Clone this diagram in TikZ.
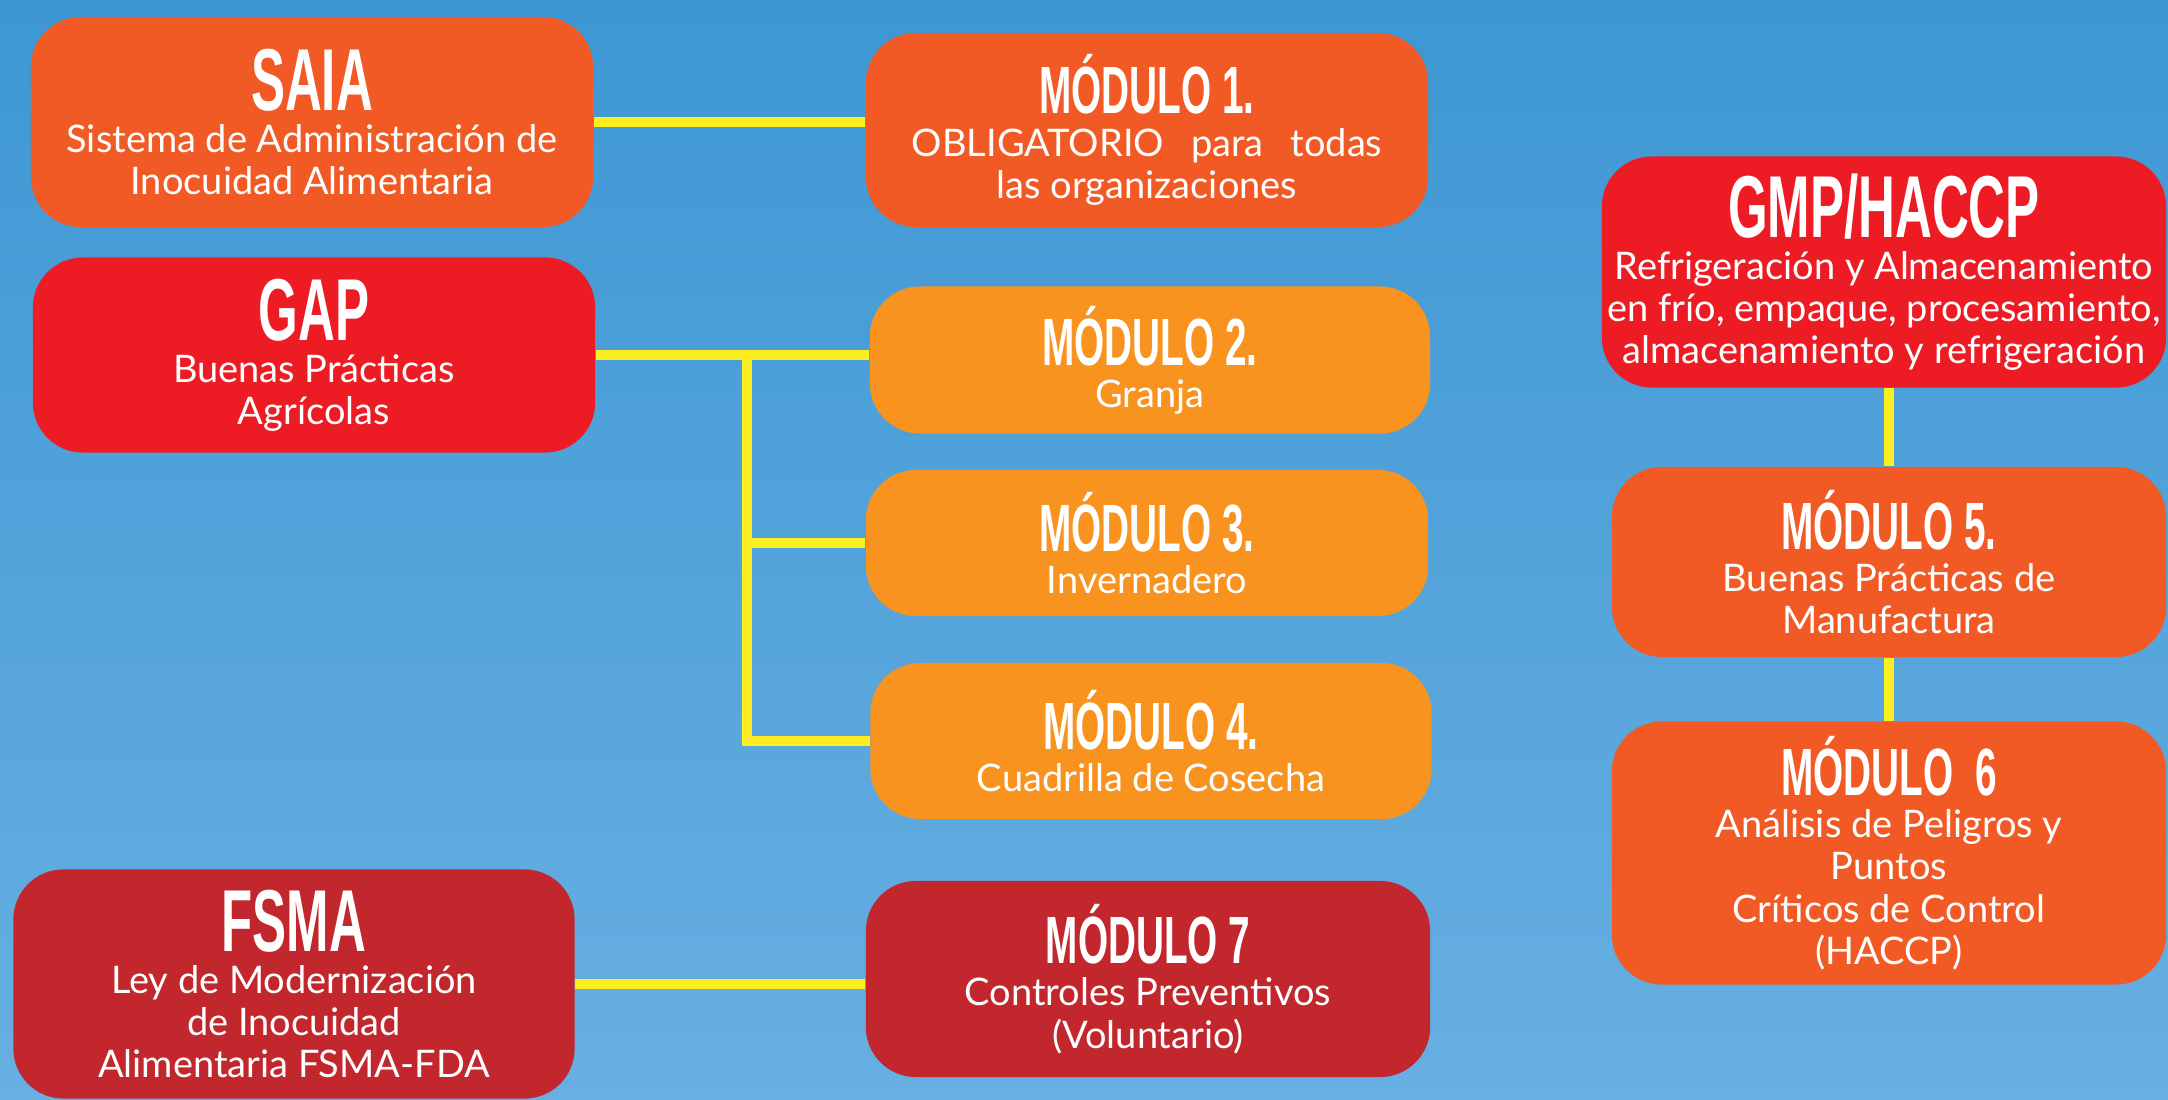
\documentclass[tikz,border=0pt]{standalone}
\usepackage{fontspec}
\setmainfont{Lato}
\newfontfamily\titlefont[FakeStretch=0.58]{Liberation Sans}
\usetikzlibrary{positioning}

\definecolor{bgtop}{RGB}{61,151,211}
\definecolor{bgbot}{RGB}{104,175,226}
\definecolor{saiaorange}{RGB}{241,90,36}
\definecolor{gapred}{RGB}{237,28,36}
\definecolor{modorange}{RGB}{247,147,30}
\definecolor{fsmared}{RGB}{193,39,45}
\definecolor{linkyellow}{RGB}{252,238,33}

\newcommand\bigtitle[1]{{\titlefont\bfseries\fontsize{25}{12}\selectfont #1}}
\newcommand\modtitle[1]{{\titlefont\bfseries\fontsize{19}{12}\selectfont #1}}

\begin{document}
\begin{tikzpicture}[x=0.01cm, y=-0.01cm,
  box/.style = {rounded corners=0.5cm, text=white, align=center, inner sep=0pt,
                font=\fontsize{10.8}{12}\selectfont},
  link/.style = {draw=linkyellow, line width=0.1cm}]
  % background
  \shade[top color=bgtop, bottom color=bgbot] (0,0) rectangle (2168,1100);

  % programs
  \node[box, fill=saiaorange, minimum width=5.62cm, minimum height=2.1cm] (saia) at (312,122)
    {\bigtitle{SAIA}\\Sistema de Administración de\\Inocuidad Alimentaria};
  \node[box, fill=gapred, minimum width=5.62cm, minimum height=1.95cm] (gap) at (314,355)
    {\bigtitle{GAP}\\Buenas Prácticas\\Agrícolas};
  \node[box, fill=fsmared, minimum width=5.61cm, minimum height=2.29cm] (fsma) at (294,984)
    {\bigtitle{FSMA}\\Ley de Modernización\\de Inocuidad\\Alimentaria FSMA-FDA};
  \node[box, fill=gapred, minimum width=5.64cm, minimum height=2.31cm] (gmp) at (1884,272)
    {\bigtitle{GMP/HACCP}\\Refrigeración y Almacenamiento\\en frío, empaque, procesamiento,\\almacenamiento y refrigeración};

  % modules
  \node[box, fill=saiaorange, minimum width=5.62cm, minimum height=1.94cm] (m1) at (1147,130)
    {\modtitle{MÓDULO 1.}\\\makebox[4.7cm][s]{OBLIGATORIO para todas}\\las organizaciones};
  \node[box, fill=modorange, minimum width=5.6cm, minimum height=1.47cm] (m2) at (1150,360)
    {\modtitle{MÓDULO 2.}\\Granja};
  \node[box, fill=modorange, minimum width=5.62cm, minimum height=1.46cm] (m3) at (1147,543)
    {\modtitle{MÓDULO 3.}\\Invernadero};
  \node[box, fill=modorange, minimum width=5.61cm, minimum height=1.56cm] (m4) at (1151,741)
    {\modtitle{MÓDULO 4.}\\Cuadrilla de Cosecha};
  \node[box, fill=fsmared, minimum width=5.64cm, minimum height=1.96cm] (m7) at (1148,979)
    {\modtitle{MÓDULO 7}\\Controles Preventivos\\(Voluntario)};
  \node[box, fill=saiaorange, minimum width=5.54cm, minimum height=1.9cm] (m5) at (1889,562)
    {\modtitle{MÓDULO 5.}\\Buenas Prácticas de\\Manufactura};
  \node[box, fill=saiaorange, minimum width=5.54cm, minimum height=2.63cm] (m6) at (1889,853)
    {\modtitle{MÓDULO\ \ 6}\\Análisis de Peligros y\\Puntos\\Críticos de Control\\(HACCP)};

  % links
  \coordinate (split) at (747,355);
  \draw[link] (saia.east) -- (saia.east -| m1.west);
  \draw[link] (gap.east) -- (gap.east -| m2.west);
  \draw[link] (split) |- (m4.west);
  \draw[link] (split |- m3.west) -- (m3.west);
  \draw[link] (fsma.east) -- (fsma.east -| m7.west);
  \draw[link] (m5.north |- gmp.south) -- (m5.north);
  \draw[link] (m5.south) -- (m6.north);
\end{tikzpicture}
\end{document}
